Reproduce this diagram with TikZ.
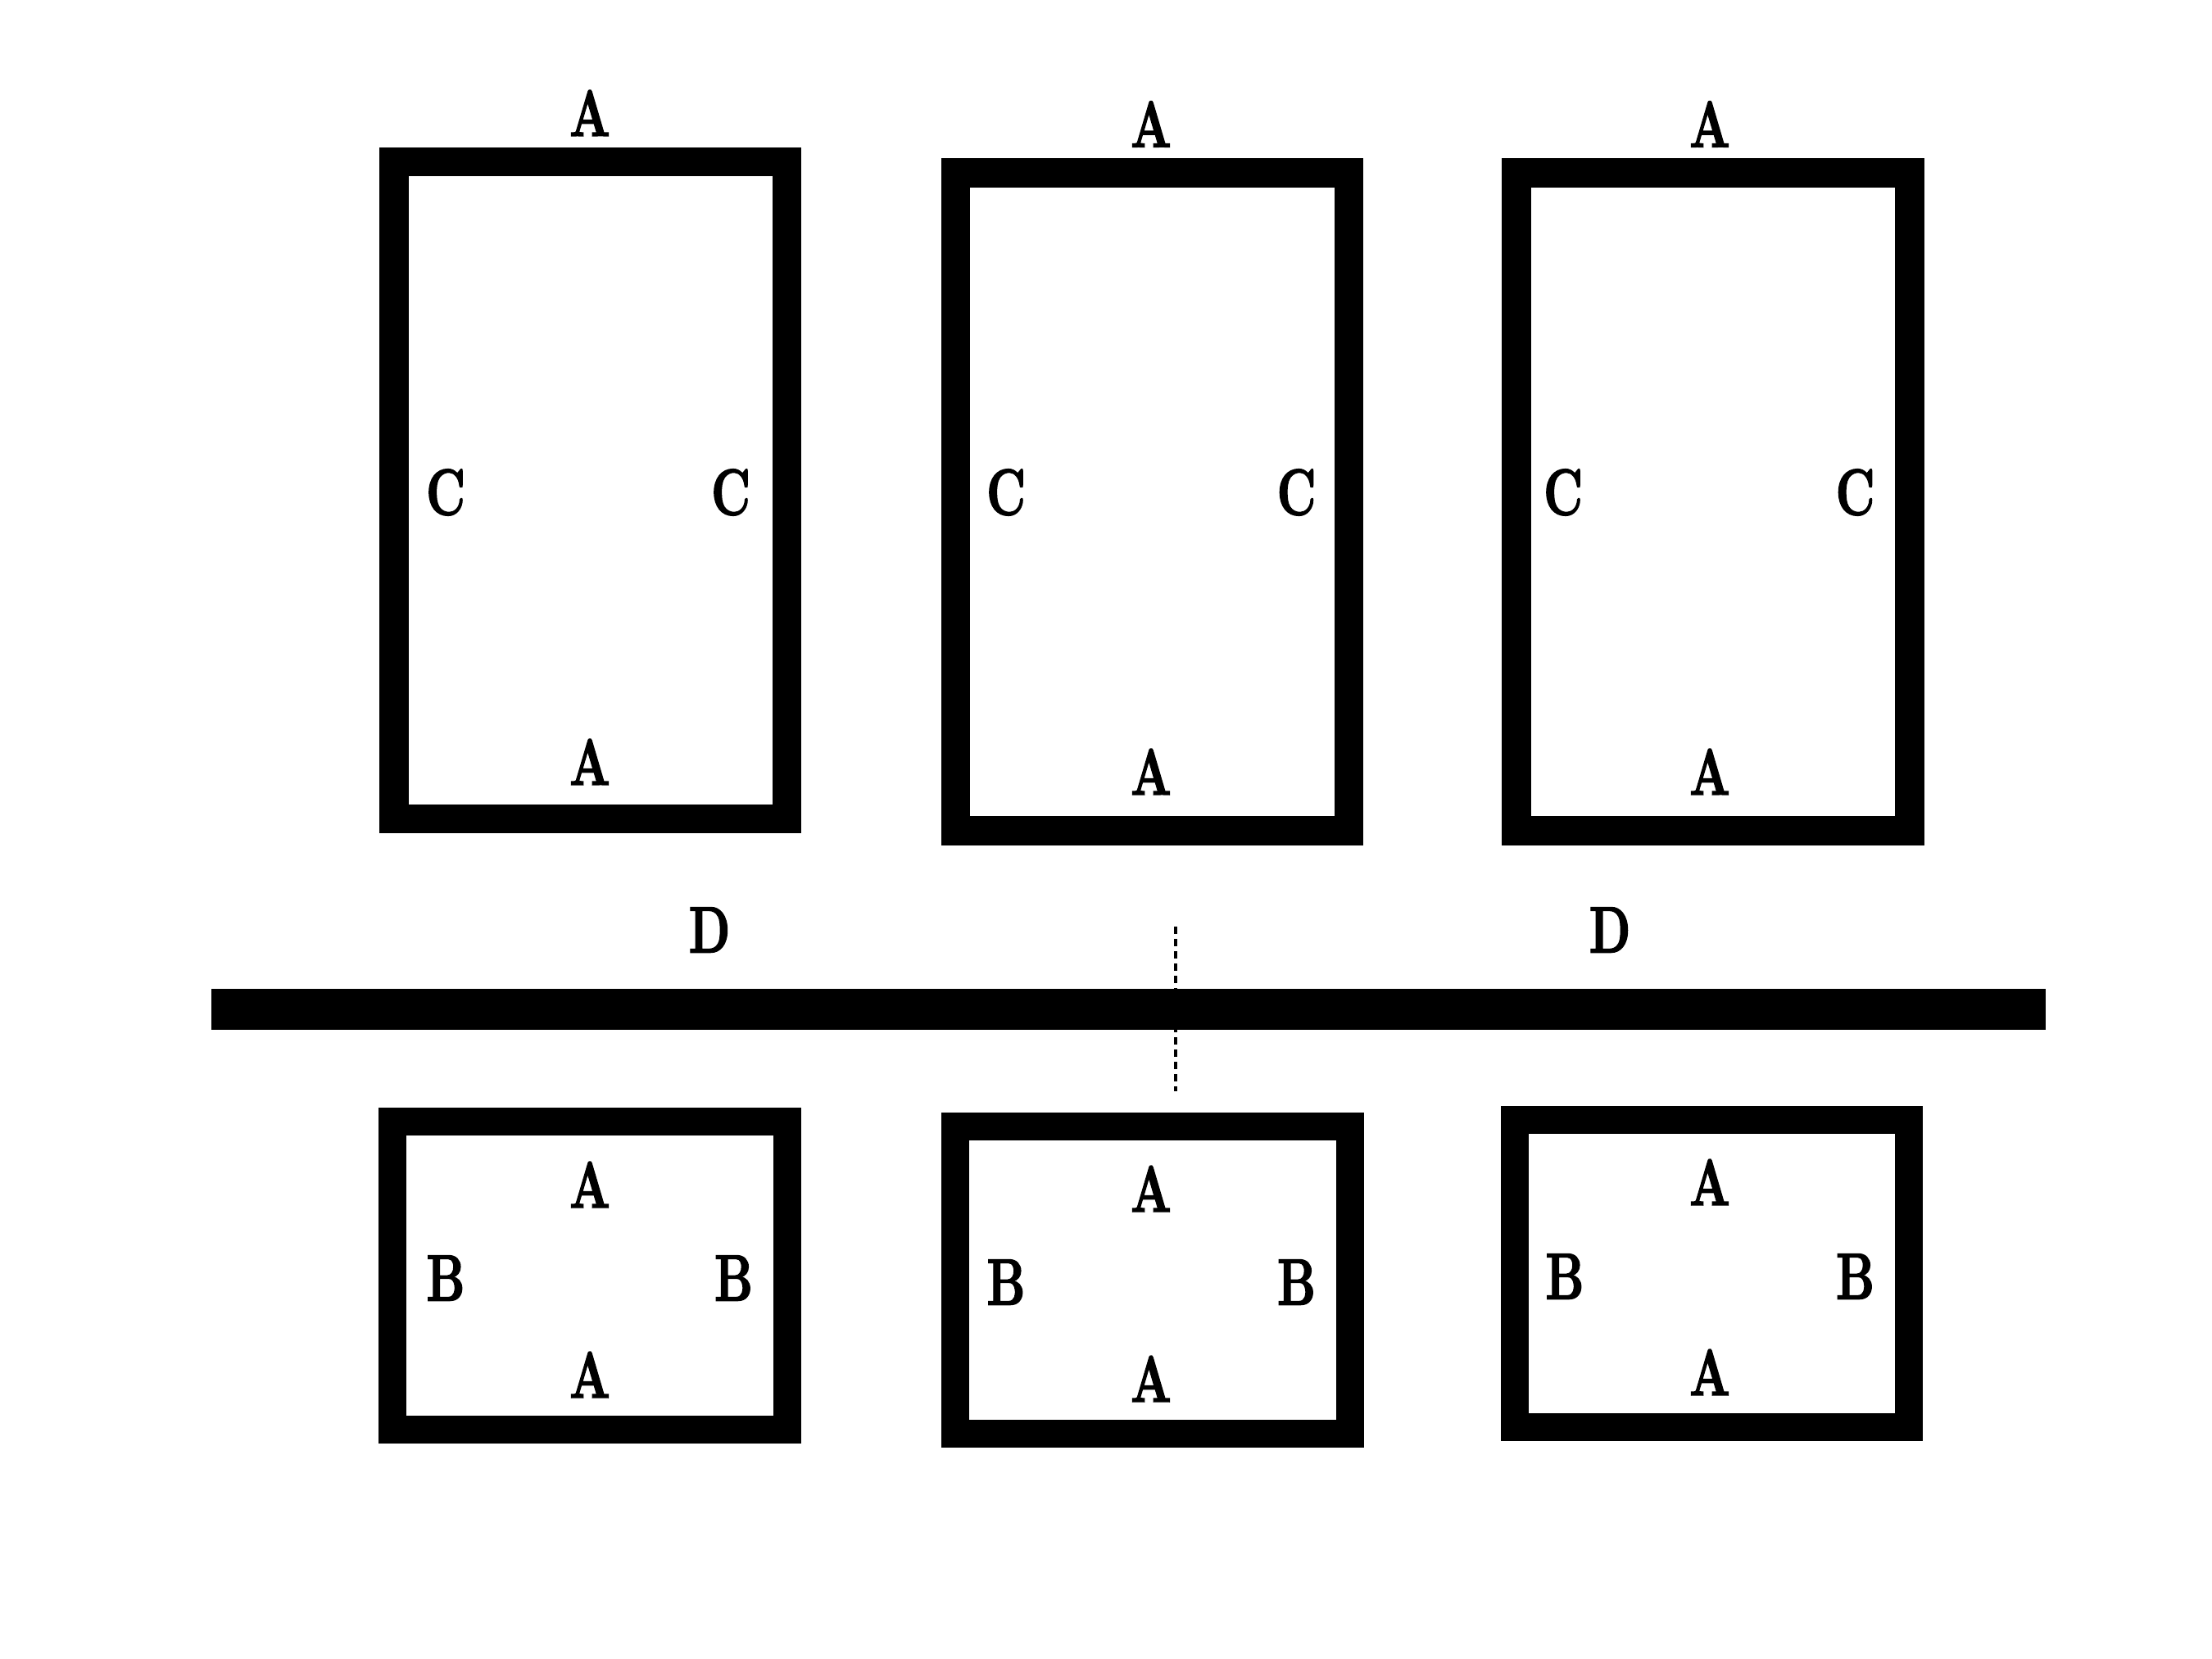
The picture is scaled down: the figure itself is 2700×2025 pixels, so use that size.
\documentclass[tikz,border=0pt]{standalone}
\usepackage{fontspec}
\usepackage{graphicx}
\newfontfamily\lblfont{lmroman10-bold}[Extension=.otf, FakeBold=2]
\newcommand{\lbltext}[1]{\scalebox{0.72}[1]{\fontsize{80}{80}\lblfont #1}}
\tikzset{
  framebox/.style={draw=black, line width=#1, line join=miter},
  framebox/.default=35.5pt,
  lbl/.style={inner sep=0pt, anchor=center, text=black},
  cutline/.style={draw=black, line width=4pt, dash pattern=on 9pt off 6pt}
}
\begin{document}
\begin{tikzpicture}[x=1pt,y=-1pt]
\useasboundingbox[fill=white] (0,0) rectangle (2700,2025);
% top boxes
\draw[framebox] (480.75,197.75) rectangle (960.25,999.25);
\draw[framebox] (1166.45,211.05) rectangle (1646.25,1013.75);
\draw[framebox] (1850.75,211.05) rectangle (2330.75,1013.75);
% bottom boxes
\draw[framebox=34pt] (478.5,1369) rectangle (961,1745);
\draw[framebox=34pt] (1165.6,1375) rectangle (1648,1750);
\draw[framebox=34pt] (1849,1367) rectangle (2329.7,1742);
% dashed cut line and bar
\coordinate (cutT) at (1435,1131);
\coordinate (cutB) at (1435,1332);
\draw[cutline] (cutT) -- (cutB);
\fill[black] (257.7,1207.3) rectangle (2497.3,1256.7);
% top-left labels
\node[lbl] (tlA1) at (720,138) {\lbltext{A}};
\node[lbl] (tlA2) at (720,930) {\lbltext{A}};
\node[lbl] (tlC1) at (544,601) {\lbltext{C}};
\node[lbl] (tlC2) at (892,601) {\lbltext{C}};
% top-middle labels
\node[lbl] (tmA1) at (1405,151.5) {\lbltext{A}};
\node[lbl] (tmA2) at (1405,942) {\lbltext{A}};
\node[lbl] (tmC1) at (1228,601) {\lbltext{C}};
\node[lbl] (tmC2) at (1582.5,601) {\lbltext{C}};
% top-right labels
\node[lbl] (trA1) at (2087,151.5) {\lbltext{A}};
\node[lbl] (trA2) at (2087,942) {\lbltext{A}};
\node[lbl] (trC1) at (1908,601) {\lbltext{C}};
\node[lbl] (trC2) at (2264.5,601) {\lbltext{C}};
% D labels
\node[lbl] (D1) at (866,1135) {\lbltext{D}};
\node[lbl] (D2) at (1965,1135) {\lbltext{D}};
% bottom-left labels
\node[lbl] (blA1) at (720,1446) {\lbltext{A}};
\node[lbl] (blB1) at (544,1560) {\lbltext{B}};
\node[lbl] (blB2) at (895.5,1560) {\lbltext{B}};
\node[lbl] (blA2) at (720,1678) {\lbltext{A}};
% bottom-middle labels
\node[lbl] (bmA1) at (1405,1451) {\lbltext{A}};
\node[lbl] (bmB1) at (1228,1565) {\lbltext{B}};
\node[lbl] (bmB2) at (1582.5,1565) {\lbltext{B}};
\node[lbl] (bmA2) at (1405,1683) {\lbltext{A}};
% bottom-right labels
\node[lbl] (brA1) at (2087,1443) {\lbltext{A}};
\node[lbl] (brB1) at (1910,1558) {\lbltext{B}};
\node[lbl] (brB2) at (2264.5,1558) {\lbltext{B}};
\node[lbl] (brA2) at (2087,1675) {\lbltext{A}};
\end{tikzpicture}
\end{document}
